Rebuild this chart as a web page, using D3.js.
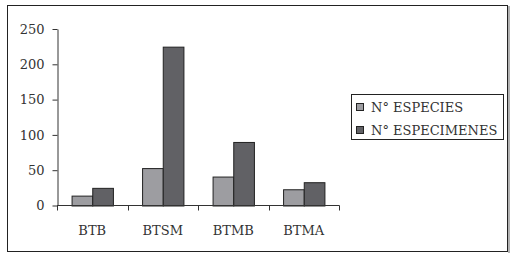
<!DOCTYPE html>
<html>
<head>
<meta charset="utf-8">
<script src="https://cdn.jsdelivr.net/npm/d3@7/dist/d3.min.js"></script>
<style>
  body { margin: 0; background: #fff; }
  svg { display: block; }
</style>
</head>
<body>
<script>
var width = 514;
var height = 259;

// datos
var categorias = ["BTB", "BTSM", "BTMB", "BTMA"];
var series = ["N° ESPECIES", "N° ESPECIMENES"];
var especies = [14, 53, 41, 23];
var especimenes = [25, 225, 90, 33];
var yTicks = [0, 50, 100, 150, 200, 250];
var colores = ["#9d9da1", "#616165"];

var valores = [especies, especimenes];
var datos = categorias.map(function (c, i) {
    return { cat: c, vals: series.map(function (s, j) { return { serie: s, idx: j, v: valores[j][i] }; }) };
});

var fuente = "DejaVu Serif, serif";
var tam = 13;

var svg = d3.select("body").append("svg")
    .attr("width", width)
    .attr("height", height);

// marco
svg.append("rect")
    .attr("x", 7.5).attr("y", 5.5)
    .attr("width", 500).attr("height", 246)
    .attr("fill", "none").attr("stroke", "#222");
svg.append("line")
    .attr("x1", 509).attr("x2", 509).attr("y1", 6).attr("y2", 253)
    .attr("stroke", "#999").attr("stroke-width", 1.5);

var x0 = d3.scaleBand().domain(categorias).range([57, 339]).padding(0);
var x1 = d3.scaleBand().domain(series).range([0, x0.bandwidth()]).paddingInner(0).paddingOuter(0.705);
var y = d3.scaleLinear().domain([0, 250]).range([205.5, 29]);

// eje Y
var yAxis = svg.append("g")
    .attr("transform", "translate(57.5,0)")
    .call(d3.axisLeft(y).tickValues(yTicks).tickSize(5).tickPadding(8).tickSizeOuter(0));
yAxis.attr("font-family", fuente).attr("font-size", tam);
yAxis.select(".domain").attr("stroke", "#333");
yAxis.selectAll(".tick line").attr("stroke", "#333");
yAxis.selectAll("text").attr("fill", "#333");

// barras
var grupos = svg.selectAll(".grupo")
    .data(datos)
    .enter().append("g")
    .attr("transform", function (d) { return "translate(" + x0(d.cat) + ",0)"; });

grupos.selectAll("rect")
    .data(function (d) { return d.vals; })
    .enter().append("rect")
    .attr("x", function (d) { return x1(d.serie) + 0.5; })
    .attr("y", function (d) { return y(d.v) + 0.5; })
    .attr("width", x1.bandwidth())
    .attr("height", function (d) { return y(0) - y(d.v); })
    .attr("fill", function (d) { return colores[d.idx]; })
    .attr("stroke", "#222");

// eje X
var xAxis = svg.append("g")
    .attr("transform", "translate(0,205.5)");
xAxis.append("line")
    .attr("x1", 57).attr("x2", 339.5)
    .attr("stroke", "#333");
xAxis.selectAll(".tk")
    .data(categorias.concat(["fin"]))
    .enter().append("line")
    .attr("x1", function (d, i) { return Math.round(57 + i * x0.step()) + 0.5; })
    .attr("x2", function (d, i) { return Math.round(57 + i * x0.step()) + 0.5; })
    .attr("y1", 0).attr("y2", 5)
    .attr("stroke", "#333");
xAxis.selectAll("text")
    .data(categorias)
    .enter().append("text")
    .attr("x", function (d) { return x0(d) + x0.bandwidth() / 2; })
    .attr("y", 29)
    .attr("text-anchor", "middle")
    .attr("font-family", fuente)
    .attr("font-size", tam)
    .attr("fill", "#333")
    .text(function (d) { return d; });

// leyenda
var leyenda = svg.append("g");
leyenda.append("rect")
    .attr("x", 351.5).attr("y", 94.5)
    .attr("width", 152).attr("height", 45)
    .attr("fill", "#fff").attr("stroke", "#222");
var items = leyenda.selectAll(".item")
    .data(series)
    .enter().append("g")
    .attr("transform", function (d, i) { return "translate(356," + (103 + i * 23) + ")"; });
items.append("rect")
    .attr("x", 0.5).attr("y", 0.5)
    .attr("width", 7).attr("height", 7)
    .attr("fill", function (d, i) { return colores[i]; })
    .attr("stroke", "#222");
items.append("text")
    .attr("x", 15)
    .attr("y", 9)
    .attr("font-family", fuente)
    .attr("font-size", tam)
    .attr("fill", "#333")
    .text(function (d) { return d; });
</script>
</body>
</html>
